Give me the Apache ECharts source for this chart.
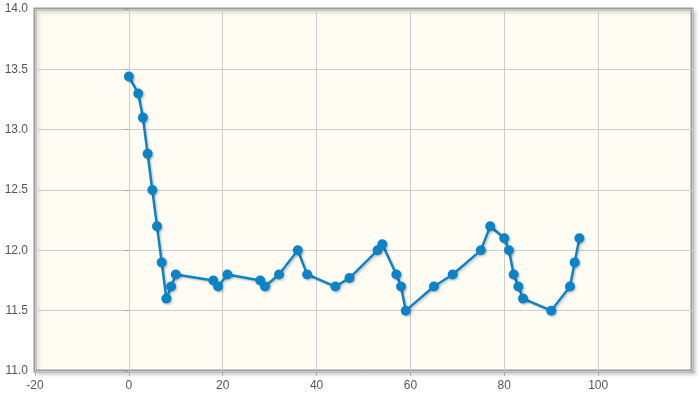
<!DOCTYPE html>
<html><head><meta charset="utf-8">
<script src="https://cdn.jsdelivr.net/npm/echarts@6/dist/echarts.min.js"></script>
<style>html,body{margin:0;padding:0;background:#fff}#c{width:700px;height:398px}</style>
</head><body><div id="c"></div>
<script>
var xValues = [0,2,3,4,5,6,7,8,9,10,18,19,21,28,29,32,36,38,44,47,53,54,57,58,59,65,69,75,77,80,81,82,83,84,90,94,95,96];
var yValues = [13.44,13.3,13.1,12.8,12.5,12.2,11.9,11.6,11.7,11.8,11.75,11.7,11.8,11.75,11.7,11.8,12.0,11.8,11.7,11.77,12.0,12.05,11.8,11.7,11.5,11.7,11.8,12.0,12.2,12.1,12.0,11.8,11.7,11.6,11.5,11.7,11.9,12.1];
var data = xValues.map(function(x,i){return [x, yValues[i]];});
var chart = echarts.init(document.getElementById('c'));
var labelStyle = {color:'#555', fontFamily:'Liberation Sans, Arial, sans-serif', fontSize:12};
chart.setOption({
  animation:false,
  grid:{left:35, right:8, top:9, bottom:27, show:true, backgroundColor:'#fffcf4', borderColor:'#999', borderWidth:3,
        shadowColor:'rgba(0,0,0,0.12)', shadowBlur:3, shadowOffsetX:3, shadowOffsetY:3},
  xAxis:{type:'value', min:-20, max:120, interval:20,
    axisLine:{show:false}, axisTick:{show:true, length:5, lineStyle:{color:'#aaa'}},
    splitLine:{show:true, lineStyle:{color:'#ccc', width:1}},
    axisLabel:Object.assign({margin:9, showMaxLabel:false}, labelStyle)},
  yAxis:{type:'value', min:11, max:14, interval:0.5,
    axisLine:{show:false}, axisTick:{show:true, length:5, lineStyle:{color:'#aaa'}},
    splitLine:{show:true, lineStyle:{color:'#ccc', width:1}},
    axisLabel:Object.assign({margin:7, formatter:function(v){return v.toFixed(1);}}, labelStyle)},
  series:[{type:'line', data:data, symbol:'circle', symbolSize:10,
    lineStyle:{color:'#0a84c6', width:2.5, shadowColor:'rgba(0,0,0,0.2)', shadowBlur:2, shadowOffsetX:1.5, shadowOffsetY:1.5},
    itemStyle:{color:'#0a84c6', shadowColor:'rgba(0,0,0,0.2)', shadowBlur:2, shadowOffsetX:1.5, shadowOffsetY:1.5}}]
});
</script></body></html>
